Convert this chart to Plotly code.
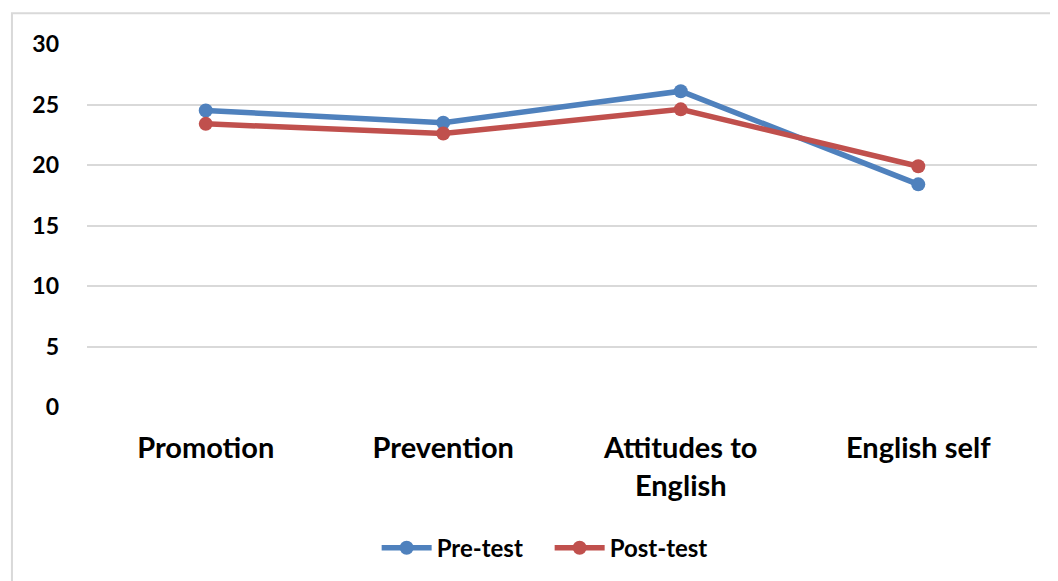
import plotly.graph_objects as go

categories = ["Promotion", "Prevention", "Attitudes to<br>English", "English self"]
pre_test = [24.5, 23.5, 26.1, 18.4]
post_test = [23.4, 22.6, 24.6, 19.9]
y_ticks = [0, 5, 10, 15, 20, 25, 30]

FONT = "Lato"

fig = go.Figure()
fig.add_trace(go.Scatter(
    x=categories, y=pre_test, name="Pre-test", mode="lines+markers",
    line=dict(color="#4F81BD", width=5.5), marker=dict(size=14, color="#4F81BD"),
))
fig.add_trace(go.Scatter(
    x=categories, y=post_test, name="Post-test", mode="lines+markers",
    line=dict(color="#C0504D", width=5.5), marker=dict(size=14, color="#C0504D"),
))

fig.update_layout(
    width=1050, height=573,
    margin=dict(l=79, r=21, t=36, b=173),
    paper_bgcolor="white", plot_bgcolor="white",
    font=dict(family=FONT, color="black"),
    showlegend=True,
    legend=dict(orientation="h", x=0.487, xanchor="center", y=-0.385, yanchor="middle",
                font=dict(size=24, family=FONT, weight="bold"), itemwidth=50,
                entrywidth=108, traceorder="normal"),
    shapes=[dict(type="rect", xref="paper", yref="paper",
                 x0=-0.079, x1=1.05, y0=-0.6, y1=1.085,
                 line=dict(color="#D9D9D9", width=2), fillcolor="rgba(0,0,0,0)", layer="below")],
)
fig.update_xaxes(
    type="category", range=[-0.5, 3.5], showgrid=False, showline=False, zeroline=False,
    ticks="", ticklabelstandoff=21,
    tickfont=dict(size=29, family=FONT, weight="bold"),
)
fig.update_yaxes(
    range=[0, 30], tickvals=y_ticks, showgrid=True, gridcolor="#D9D9D9", gridwidth=2,
    zeroline=False, showline=False, ticks="", ticklabelstandoff=27,
    tickfont=dict(size=23, family=FONT, weight="bold"),
)

fig.write_html("out.html")
